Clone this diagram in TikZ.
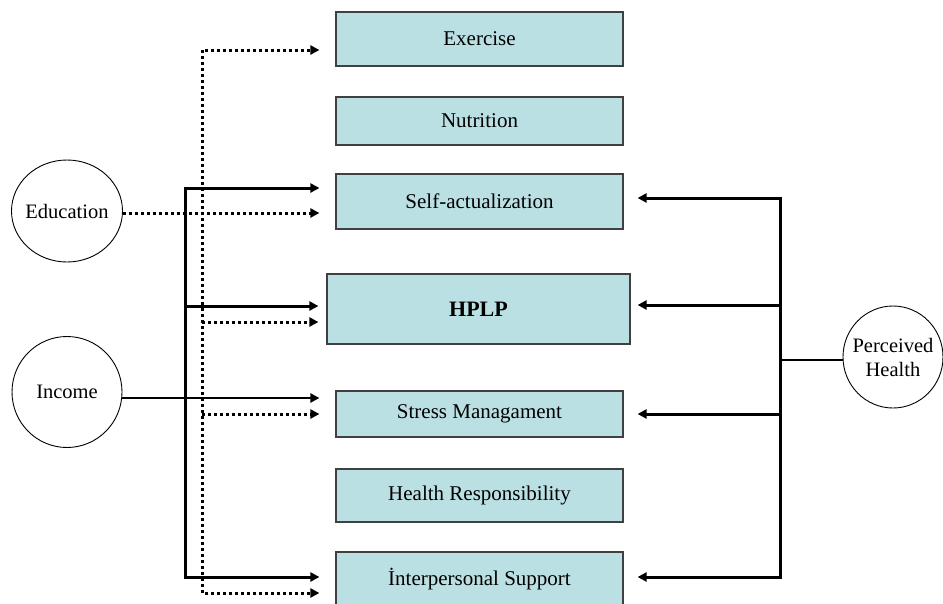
\documentclass[tikz,border=0pt]{standalone}
\usepackage{fontspec}
\setmainfont{Liberation Serif}
\usetikzlibrary{arrows.meta,shapes.geometric}
\definecolor{boxblue}{HTML}{BBE0E3}
\tikzset{
  box/.style={rectangle,draw=black!75,line width=1.2pt,fill=boxblue,inner sep=0pt,
    font=\fontsize{21}{24}\selectfont},
  oval/.style={ellipse,draw=black,line width=0.9pt,inner sep=0pt},
  ovaltext/.style={font=\fontsize{20.5}{24}\selectfont,align=center,inner sep=0pt},
  solidline/.style={line width=3pt},
  dotline/.style={line width=3pt,dash pattern=on 3pt off 3pt},
  tip/.style={-{Triangle[length=9pt,width=9pt]}},
}
\begin{document}
\begin{tikzpicture}[x=1pt,y=-1pt]
\useasboundingbox (0,0) rectangle (943,603);
% boxes
\node[box,minimum width=287,minimum height=54] (ex) at (479.5,39) {Exercise};
\node[box,minimum width=287,minimum height=48] (nu) at (479.5,121) {Nutrition};
\node[box,minimum width=287,minimum height=55] (sa) at (479.5,201.5) {Self-actualization};
\node[box,minimum width=303,minimum height=70,font=\fontsize{22}{24}\selectfont\bfseries] (hp) at (478.5,309) {HPLP};
\node[box,minimum width=287,minimum height=46] (st) at (479.5,414) {Stress Managament};
\node[box,minimum width=287,minimum height=53] (hr) at (479.5,495.5) {Health Responsibility};
\node[box,minimum width=287,minimum height=54] (ip) at (479.5,579) {İnterpersonal Support};
% ovals
\node[oval,minimum width=111,minimum height=102] (edu) at (67,211) {};
\node[ovaltext] (edut) at (edu.center) {Education};
\node[oval,minimum width=110,minimum height=111] (inc) at (67,392) {};
\node[ovaltext] (inct) at (inc.center) {Income};
\node[oval,minimum width=100,minimum height=102] (ph) at (893,357) {};
\node[ovaltext] (pht) at (ph.center) {Perceived\\Health};
% junction coordinates
\coordinate (sTop) at (185,188);
\coordinate (sMid) at (185,306);
\coordinate (sBot) at (185,577);
\coordinate (dTop) at (202,50);
\coordinate (dHp) at (202,322);
\coordinate (dSt) at (202,414);
\coordinate (dBot) at (202,593);
\coordinate (rTop) at (780,198);
\coordinate (rHp) at (780,305);
\coordinate (rPh) at (780,360);
\coordinate (rSt) at (780,414);
\coordinate (rBot) at (780,577);
% solid (Income) bus
\draw[solidline,tip,shorten >=16pt] (sBot) -- (sTop) -- (sa.west |- sTop);
\draw[solidline,tip,shorten >=8pt] (sMid) -- (hp.west |- sMid);
\draw[solidline,tip,shorten >=16pt] (sTop) -- (sBot) -- (ip.west |- sBot);
\draw[line width=2.5pt,tip,shorten >=16pt] (inc.east |- 0,398) -- (st.west |- 0,398);
% dotted (Education) bus
\draw[dotline,tip,shorten >=16pt] (dBot) -- (dTop) -- (ex.west |- dTop);
\draw[dotline,tip,shorten >=16pt] (edu.east |- 0,213) -- (sa.west |- 0,213);
\draw[dotline,tip,shorten >=8pt] (dHp) -- (hp.west |- dHp);
\draw[dotline,tip,shorten >=16pt] (dSt) -- (st.west |- dSt);
\draw[dotline,tip,shorten >=16pt] (dTop) -- (dBot) -- (ip.west |- dBot);
% right (Perceived Health) bus
\draw[solidline] (rTop) -- (rBot);
\draw[line width=2.5pt] (ph.west |- rPh) -- (rPh);
\draw[solidline,tip,shorten >=14pt] (rBot) -- (rTop) -- (sa.east |- rTop);
\draw[solidline,tip,shorten >=7pt] (rHp) -- (hp.east |- rHp);
\draw[solidline,tip,shorten >=14pt] (rSt) -- (st.east |- rSt);
\draw[solidline,tip,shorten >=14pt] (rTop) -- (rBot) -- (ip.east |- rBot);
\end{tikzpicture}
\end{document}
